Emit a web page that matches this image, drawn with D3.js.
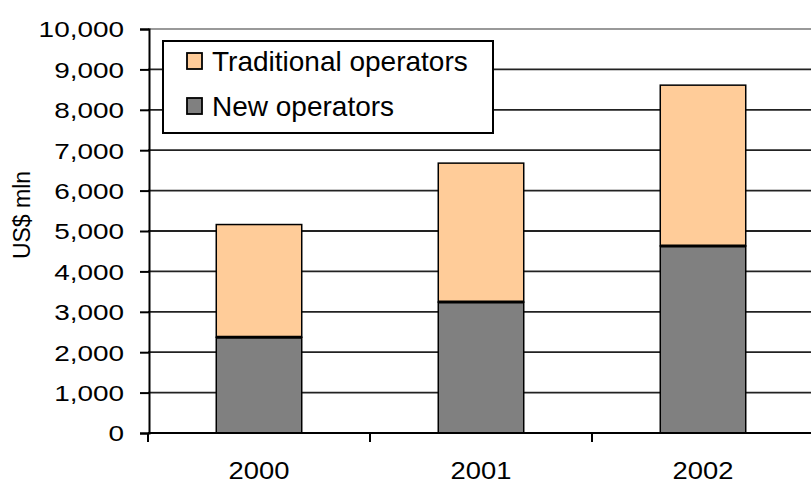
<!DOCTYPE html>
<html>
<head>
<meta charset="utf-8">
<script src="https://cdn.jsdelivr.net/npm/d3@7"></script>
<style>
  html, body { margin: 0; padding: 0; background: #fff; }
  text { font-family: "Liberation Sans", Arial, sans-serif; fill: #000; }
</style>
</head>
<body>
<svg id="chart" width="811" height="486"></svg>
<script>
const years = ['2000', '2001', '2002']
const newOperators = [2370, 3240, 4630]
const traditionalOperators = [2790, 3440, 3980]
const seriesNames = ['Traditional operators', 'New operators']
const yTicks = [0, 1000, 2000, 3000, 4000, 5000, 6000, 7000, 8000, 9000, 10000]

const colors = { traditional: '#FFCC99', newOps: '#808080' }

const svg = d3.select('#chart')
svg.append('rect').attr('width', 811).attr('height', 486).attr('fill', '#fff')

// plot runs past the right edge of the window, like the original
const x = d3.scaleBand().domain(years).range([148, 814]).padding(0)
const y = d3.scaleLinear().domain([0, 10000]).range([433, 29])
const barW = x.bandwidth() * 0.385

// gridlines
svg.append('g')
    .selectAll('line')
    .data(yTicks.filter(d => d > 0))
    .enter()
    .append('line')
    .attr('x1', 148)
    .attr('x2', 811)
    .attr('y1', d => y(d))
    .attr('y2', d => y(d))
    .attr('stroke', d => d === 10000 ? '#999' : '#222')
    .attr('stroke-width', 1.8)

// stacked bars
const stacked = years.map((yr, i) => ({
    year: yr,
    lo: newOperators[i],
    hi: newOperators[i] + traditionalOperators[i]
}))

const bars = svg.append('g')

bars.selectAll('.trad')
    .data(stacked)
    .enter()
    .append('rect')
    .attr('class', 'trad')
    .attr('x', d => x(d.year) + (x.bandwidth() - barW) / 2)
    .attr('width', barW)
    .attr('y', d => y(d.hi))
    .attr('height', d => y(d.lo) - y(d.hi))
    .attr('fill', colors.traditional)
    .attr('stroke', '#000')
    .attr('stroke-width', 1.5)

bars.selectAll('.newop')
    .data(stacked)
    .enter()
    .append('rect')
    .attr('class', 'newop')
    .attr('x', d => x(d.year) + (x.bandwidth() - barW) / 2)
    .attr('width', barW)
    .attr('y', d => y(d.lo))
    .attr('height', d => y(0) - y(d.lo))
    .attr('fill', colors.newOps)
    .attr('stroke', '#000')
    .attr('stroke-width', 1.5)

// thick join between the two segments
bars.selectAll('.join')
    .data(stacked)
    .enter()
    .append('line')
    .attr('x1', d => x(d.year) + (x.bandwidth() - barW) / 2)
    .attr('x2', d => x(d.year) + (x.bandwidth() + barW) / 2)
    .attr('y1', d => y(d.lo))
    .attr('y2', d => y(d.lo))
    .attr('stroke', '#000')
    .attr('stroke-width', 3)

// y axis
const yAxis = svg.append('g')
    .attr('transform', 'translate(149,0)')
    .call(d3.axisLeft(y).tickValues(yTicks).tickSize(9).tickFormat(d3.format(',')))
yAxis.select('.domain').attr('stroke', '#000').attr('stroke-width', 2)
yAxis.selectAll('.tick line').attr('stroke', '#000').attr('stroke-width', 2)
yAxis.selectAll('.tick text')
    .attr('x', -25 / 1.27)
    .attr('dy', '0.36em')
    .attr('transform', 'scale(1.27,1)')
    .style('font-size', '22px')

// x axis
const xAxis = svg.append('g')
    .attr('transform', 'translate(0,433)')
xAxis.append('line')
    .attr('x1', 148).attr('x2', 811)
    .attr('stroke', '#000').attr('stroke-width', 2)
xAxis.selectAll('.xtick')
    .data(years)
    .enter()
    .append('line')
    .attr('x1', d => x(d))
    .attr('x2', d => x(d))
    .attr('y1', 0)
    .attr('y2', 9)
    .attr('stroke', '#000')
    .attr('stroke-width', 2)
xAxis.selectAll('.xlabel')
    .data(years)
    .enter()
    .append('text')
    .attr('transform', d => `translate(${x(d) + x.bandwidth() / 2},46) scale(1.14,1)`)
    .attr('text-anchor', 'middle')
    .style('font-size', '24px')
    .text(d => d)

// y title
svg.append('text')
    .attr('transform', 'translate(30,215) rotate(-90)')
    .attr('text-anchor', 'middle')
    .style('font-size', '23px')
    .text('US$ mln')

// legend
const legend = svg.append('g')
legend.append('rect')
    .attr('x', 163).attr('y', 41)
    .attr('width', 330).attr('height', 92)
    .attr('fill', '#fff')
    .attr('stroke', '#000')
    .attr('stroke-width', 2)

const legendItems = [
    { name: seriesNames[0], color: colors.traditional, y: 53 },
    { name: seriesNames[1], color: colors.newOps, y: 98 }
]
legendItems.forEach(item => {
    legend.append('rect')
        .attr('x', 187).attr('y', item.y)
        .attr('width', 15).attr('height', 16)
        .attr('fill', item.color)
        .attr('stroke', '#000')
        .attr('stroke-width', 1.8)
    legend.append('text')
        .attr('x', 212)
        .attr('y', item.y + 18)
        .style('font-size', '28px')
        .text(item.name)
})
</script>
</body>
</html>
